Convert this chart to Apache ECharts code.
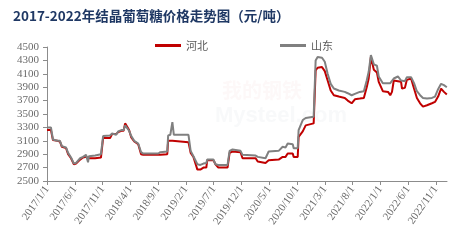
<!DOCTYPE html>
<html>
<head>
<meta charset="utf-8">
<script src="https://cdn.jsdelivr.net/npm/echarts@6/dist/echarts.min.js"></script>
<style>html,body{margin:0;padding:0;background:#fff}#c{width:466px;height:251px}</style>
</head>
<body>
<div id="c"></div>
<script>
const dates = ["2017/1/1","2017/1/23","2017/2/3","2017/2/25","2017/3/11","2017/3/22","2017/4/14","2017/4/25","2017/5/11","2017/5/27",
"2017/6/8","2017/6/30","2017/7/16","2017/8/2","2017/8/13","2017/8/18","2017/9/21","2017/10/23","2017/11/4","2017/12/12",
"2017/12/23","2018/1/15","2018/1/26","2018/2/12","2018/2/23","2018/3/3","2018/3/14","2018/3/25","2018/4/6","2018/4/22",
"2018/5/14","2018/5/30","2018/6/11","2018/9/2","2018/9/13","2018/10/21","2018/10/26","2018/11/7","2018/11/18","2018/11/26",
"2019/1/1","2019/2/14","2019/2/25","2019/3/12","2019/4/3","2019/4/19","2019/5/6","2019/5/22","2019/5/27","2019/6/30",
"2019/7/11","2019/7/27","2019/9/16","2019/9/27","2019/10/13","2019/11/26","2019/12/7","2020/2/17","2020/2/28","2020/4/11",
"2020/4/28","2020/6/22","2020/7/14","2020/7/30","2020/8/11","2020/9/8","2020/9/13","2020/10/5","2020/10/10","2020/11/2",
"2020/11/18","2021/1/1","2021/1/12","2021/1/23","2021/2/15","2021/3/1","2021/3/17","2021/4/3","2021/4/20","2021/5/17",
"2021/6/19","2021/7/5","2021/7/27","2021/8/14","2021/9/10","2021/10/2","2021/10/18","2021/10/29","2021/11/10","2021/11/26",
"2021/12/13","2021/12/23","2022/1/15","2022/2/12","2022/2/23","2022/3/4","2022/3/14","2022/4/6","2022/4/23","2022/4/28",
"2022/5/14","2022/5/25","2022/6/17","2022/7/3","2022/7/19","2022/8/6","2022/8/22","2022/9/13","2022/10/10","2022/10/27",
"2022/11/13","2022/11/29","2022/12/15","2022/12/31"];

const hebei = [3260,3260,3110,3100,3090,3010,2990,2900,2840,2750,
2760,2820,2850,2860,2850,2840,2840,2850,3140,3140,
3200,3200,3230,3250,3250,3360,3340,3260,3150,3090,
3050,2900,2890,2890,2890,2900,3100,3100,3100,3100,
3090,3080,2920,2860,2670,2670,2700,2700,2810,2810,
2750,2700,2700,2920,2940,2930,2840,2840,2790,2770,
2810,2820,2860,2860,2910,2910,2860,2860,3160,3240,
3330,3360,4150,4190,4200,4140,4000,3850,3780,3760,
3740,3700,3660,3720,3730,3740,3900,4030,4350,4160,
4120,3980,3840,3830,3780,3830,4000,3990,3980,3880,
3890,4010,4030,3880,3740,3660,3610,3630,3660,3680,
3760,3880,3830,3790];

const shandong = [3300,3300,3120,3100,3100,3020,3000,2920,2850,2760,
2770,2840,2860,2890,2780,2870,2880,2900,3170,3180,
3210,3190,3240,3260,3260,3330,3320,3250,3170,3100,
3060,2930,2910,2910,2930,2940,3180,3190,3380,3190,
3190,3190,2950,2870,2750,2740,2760,2770,2820,2820,
2750,2740,2740,2950,2970,2950,2890,2880,2860,2840,
2940,2950,3010,3000,3060,3050,2990,2990,3260,3410,
3440,3460,4300,4350,4340,4280,4100,3950,3880,3850,
3830,3810,3780,3800,3830,3840,4000,4130,4380,4240,
4220,4060,3960,3960,3960,3960,4030,4060,4000,3980,
3990,4050,4050,3960,3840,3780,3740,3730,3740,3760,
3870,3950,3930,3900];

const xTickLabels = ["2017/1/1","2017/6/1","2017/11/1","2018/4/1","2018/9/1","2019/2/1","2019/7/1","2019/12/1",
"2020/5/1","2020/10/1","2021/3/1","2021/8/1","2022/1/1","2022/6/1","2022/11/1"];

function toMonth(s){
  const [y,m,d] = s.split('/').map(Number);
  const dim = new Date(y, m, 0).getDate();
  return (y-2017)*12 + (m-1) + (d-1)/dim;
}
const tickVals = xTickLabels.map(toMonth);
const labelMap = {};
tickVals.forEach((v,i)=>labelMap[v.toFixed(3)] = xTickLabels[i]);

const chart = echarts.init(document.getElementById('c'), null, {renderer:'canvas'});
const axisColor = '#8c8c8c';
const labelFont = {fontFamily:'Liberation Serif', fontSize:11, color:'#6b6b6b'};
chart.setOption({
  animation:false,
  backgroundColor:'#fff',
  title:{text:'2017-2022年结晶葡萄糖价格走势图（元/吨）', left:8, top:4,
    textStyle:{fontFamily:'Noto Sans CJK SC', fontWeight:'bold', fontSize:13.5, color:'#1f3864'}},
  legend:{top:35, left:150, itemWidth:26, itemHeight:3, itemGap:72, icon:'rect',
    textStyle:{fontFamily:'Noto Sans CJK SC', fontSize:11, color:'#595959'},
    data:['河北','山东']},
  graphic:[{type:'text', left:215, top:105, z:-1, style:{text:'Mysteel.com', fontSize:22, fontWeight:'bold', fontFamily:'Liberation Sans', fill:'rgba(200,205,215,0.12)'}},
           {type:'text', left:222, top:80, z:-1, style:{text:'我的钢铁', fontSize:20, fontWeight:'bold', fontFamily:'Noto Sans CJK SC', fill:'rgba(230,150,150,0.07)'}}],
  grid:{left:47, right:19, top:47, bottom:70},
  xAxis:{type:'value', min:0, max:72,
    axisLine:{lineStyle:{color:axisColor, width:1}},
    axisTick:{show:true, length:4, lineStyle:{color:axisColor}, customValues:tickVals},
    axisLabel:Object.assign({rotate:55, margin:6, customValues:tickVals,
      formatter:(v)=>labelMap[v.toFixed(3)]||''}, labelFont),
    splitLine:{show:false}},
  yAxis:{type:'value', min:2500, max:4500, interval:200,
    axisLine:{show:true, lineStyle:{color:axisColor, width:1}},
    axisTick:{show:true, length:4, lineStyle:{color:axisColor}},
    axisLabel:Object.assign({margin:8, formatter:(v)=>String(v)}, labelFont),
    splitLine:{show:false}},
  series:[
    {name:'河北', type:'line', showSymbol:false, symbol:'none', color:'#c00000',
     lineStyle:{width:2, color:'#c00000'},
     data:dates.map((d,i)=>[toMonth(d), hebei[i]])},
    {name:'山东', type:'line', showSymbol:false, symbol:'none', color:'#808080',
     lineStyle:{width:2, color:'#808080'},
     data:dates.map((d,i)=>[toMonth(d), shandong[i]])}
  ]
});
</script>
</body>
</html>
